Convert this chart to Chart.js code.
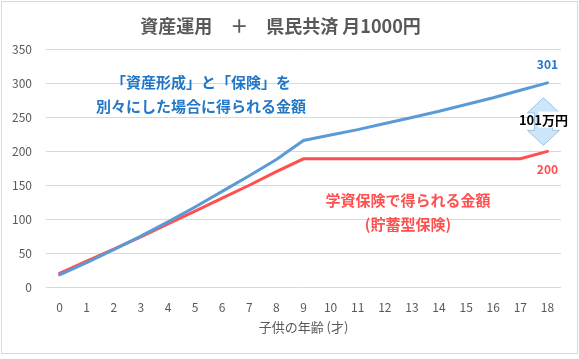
<!DOCTYPE html>
<html><head><meta charset="utf-8">
<script src="https://cdn.jsdelivr.net/npm/chart.js@4"></script>
<style>html,body{margin:0;padding:0;background:#fff}#wrap{width:579px;height:359px;position:relative}</style>
</head><body><div id="wrap"><canvas id="c" width="579" height="359"></canvas></div>
<script>
const ages = ['0','1','2','3','4','5','6','7','8','9','10','11','12','13','14','15','16','17','18'];
const separateValues = [18,36,55,75,96,118,141,164,188,216,224,232,241,250,259,269,279,290,301];
const insuranceValues = [20,38,56,74,93,112,131,150,170,189,189,189,189,189,189,189,189,189,200];
const yTicks = [0,50,100,150,200,250,300,350];
const titleText = '資産運用　＋　県民共済 月1000円';
const xTitle = '子供の年齢 (才)';
const blueNote = ['「資産形成」と「保険」を','別々にした場合に得られる金額'];
const redNote = ['学資保険で得られる金額','(貯蓄型保険)'];

const F = "'Noto Sans CJK JP', 'Noto Sans', sans-serif";
const BLUE = '#5b9bd5', RED = '#ff5050', BLUE_TXT = '#2277c6', GRAY = '#595959';

const annot = {
  id:'annot',
  beforeDraw(chart){
    const c = chart.ctx; c.save(); c.fillStyle='#fff'; c.fillRect(0,0,chart.width,chart.height); c.restore();
  },
  afterDraw(chart){
    const c = chart.ctx, xs = chart.scales.x, ys = chart.scales.y;
    const last = ages.length-1;
    const xL = xs.getPixelForValue(last);
    const yB = ys.getPixelForValue(separateValues[last]);
    const yR = ys.getPixelForValue(insuranceValues[last]);
    c.save();
    // double arrow
    const top = yB + 15, bot = yR - 6, hw = 16, sw = 9, hh = 15, cx = xL - 4;
    c.beginPath();
    c.moveTo(cx, top);
    c.lineTo(cx+hw, top+hh); c.lineTo(cx+sw, top+hh); c.lineTo(cx+sw, bot-hh);
    c.lineTo(cx+hw, bot-hh); c.lineTo(cx, bot); c.lineTo(cx-hw, bot-hh);
    c.lineTo(cx-sw, bot-hh); c.lineTo(cx-sw, top+hh); c.lineTo(cx-hw, top+hh); c.closePath();
    c.fillStyle='#cfe6f8'; c.fill(); c.strokeStyle='#9dc3e6'; c.lineWidth=1; c.stroke();
    // label
    const diff = separateValues[last]-insuranceValues[last];
    const midY = (top+bot)/2 - 2;
    c.fillStyle='#fff'; c.fillRect(cx-5, midY-8, 24, 16);
    c.font = "bold 13px "+F; c.fillStyle='#000'; c.textAlign='center'; c.textBaseline='middle';
    c.fillText(diff+'万円', cx, midY);
    // end values
    c.font = "bold 12px "+F;
    c.fillStyle = BLUE_TXT; c.fillText(String(separateValues[last]), xL, yB-18);
    c.fillStyle = RED; c.fillText(String(insuranceValues[last]), xL, yR+18);
    // notes
    c.font = "bold 15px "+F;
    c.fillStyle = BLUE_TXT;
    c.fillText(blueNote[0], 201, 82);
    c.fillText(blueNote[1], 201, 106);
    c.fillStyle = RED;
    c.fillText(redNote[0], 408, 200);
    c.fillText(redNote[1], 408, 224);
    // border
    c.strokeStyle='#d9d9d9'; c.lineWidth=1; c.strokeRect(1.5,1.5,576,352);
    c.restore();
  }
};

new Chart(document.getElementById('c').getContext('2d'), {
  type:'line',
  data:{labels:ages, datasets:[
    {label:'資産形成と保険を別々', data:separateValues, borderColor:BLUE, borderWidth:3, pointRadius:0, tension:0, fill:false, borderCapStyle:'round'},
    {label:'学資保険', data:insuranceValues, borderColor:RED, borderWidth:3, pointRadius:0, tension:0, fill:false, borderCapStyle:'round'}
  ]},
  options:{
    responsive:false, animation:false, devicePixelRatio:1,
    layout:{padding:{left:0,right:18,top:0,bottom:0}},
    plugins:{
      legend:{display:false}, tooltip:{enabled:false},
      title:{display:true, text:titleText, color:GRAY, font:{family:F,size:18,weight:'bold'}, padding:{top:15,bottom:13}}
    },
    scales:{
      x:{offset:true, grid:{display:false}, border:{display:false},
         ticks:{color:GRAY, font:{family:F,size:12}, padding:5, maxRotation:0, autoSkip:false},
         title:{display:true, text:xTitle, color:GRAY, font:{family:F,size:13}, padding:{top:0,bottom:24}},
         afterFit(s){ s.height = 72; }},
      y:{min:0, max:350,
         afterBuildTicks(s){ s.ticks = yTicks.map(v=>({value:v})); },
         ticks:{color:GRAY, font:{family:F,size:12}, padding:14},
         grid:{color:'#d9d9d9', drawTicks:false}, border:{display:false},
         afterFit(s){ s.width = 46; }}
    }
  },
  plugins:[annot]
});
</script></body></html>
